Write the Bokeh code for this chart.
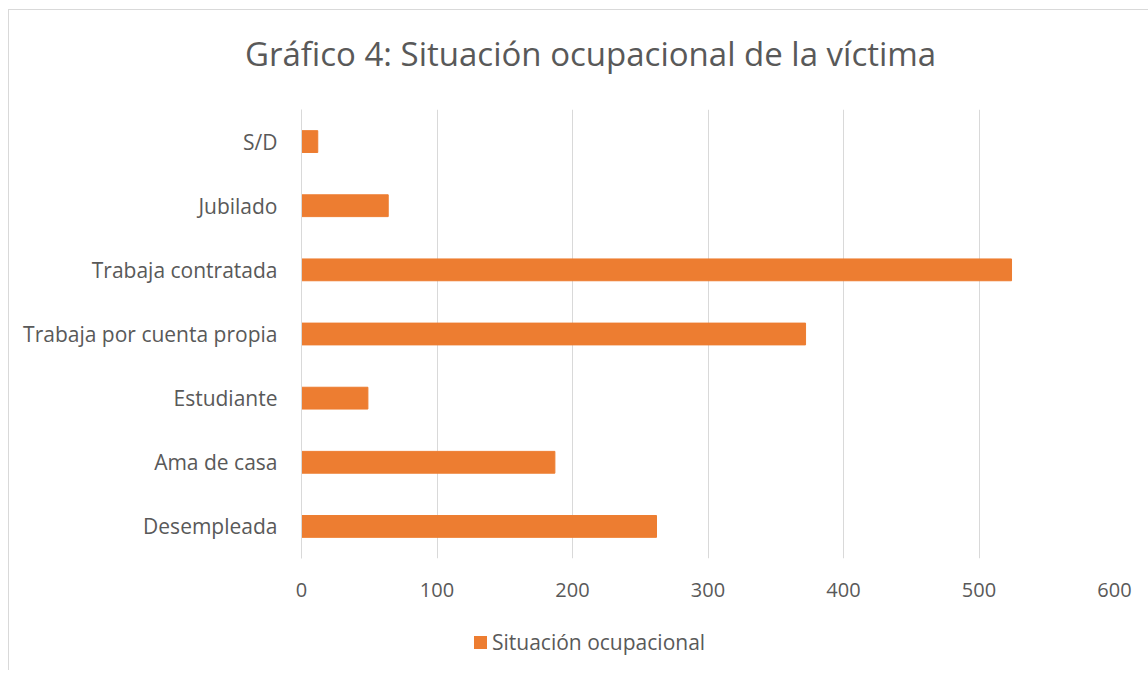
from bokeh.plotting import figure
from bokeh.models import FactorRange, Range1d, ColumnDataSource, FixedTicker, Div
from bokeh.layouts import column
from bokeh.embed import file_html
from bokeh.resources import INLINE

categories = ["S/D", "Jubilado", "Trabaja contratada", "Trabaja por cuenta propia",
              "Estudiante", "Ama de casa", "Desempleada"]
values = [12, 64, 524, 372, 49, 187, 262]
x_ticks = [0, 100, 200, 300, 400, 500, 600]
series_name = "Situación ocupacional"
title_text = "Gráfico 4: Situación ocupacional de la víctima"

FONT = "Open Sans"
GREY = "#595959"
ORANGE = "#ED7D31"

src = ColumnDataSource(dict(cat=categories, val=values))

title_html = (
    f'<div style="padding-left:231px;padding-top:19px;line-height:40px;'
    f'font-family:\'{FONT}\';font-size:33px;color:{GREY};white-space:nowrap">{title_text}</div>'
)
title_div = Div(text=title_html, width=1132, height=60)

p = figure(width=1132, height=540, output_backend="svg", toolbar_location=None,
           y_range=FactorRange(factors=list(reversed(categories))),
           x_range=Range1d(0, 600),
           min_border_left=292, min_border_right=27, min_border_top=29, min_border_bottom=62)

r = p.hbar(y="cat", right="val", left=0, height=0.34, source=src, color=ORANGE)

p.xaxis.ticker = FixedTicker(ticks=x_ticks)
p.xaxis.axis_line_color = None
p.xaxis.major_tick_line_color = None
p.xaxis.minor_tick_line_color = None
p.xaxis.major_label_text_font = FONT
p.xaxis.major_label_text_font_size = "20px"
p.xaxis.major_label_text_color = GREY
p.xaxis.major_label_standoff = 18

p.yaxis.axis_line_color = "#d9d9d9"
p.yaxis.major_tick_line_color = None
p.yaxis.minor_tick_line_color = None
p.yaxis.major_label_text_font = FONT
p.yaxis.major_label_text_font_size = "21px"
p.yaxis.major_label_text_color = GREY
p.yaxis.major_label_standoff = 18

p.xgrid.grid_line_color = "#d9d9d9"
p.ygrid.grid_line_color = None
p.outline_line_color = None

legend_html = (
    f'<div style="padding-left:460px;padding-top:5px;line-height:20px;'
    f'font-family:\'{FONT}\';font-size:21px;color:{GREY};white-space:nowrap">'
    f'<span style="display:inline-block;width:13px;height:13px;background:{ORANGE};'
    f'margin-right:5px;vertical-align:middle"></span>'
    f'<span style="vertical-align:middle">{series_name}</span></div>'
)
leg = Div(text=legend_html, width=1132, height=40)

layout = column(title_div, p, leg, spacing=0)
layout.styles = {"border-top": "1px solid #d9d9d9", "border-left": "1px solid #d9d9d9",
                 "margin-left": "8px", "margin-top": "9px"}

open("out.html", "w").write(file_html(layout, INLINE))
